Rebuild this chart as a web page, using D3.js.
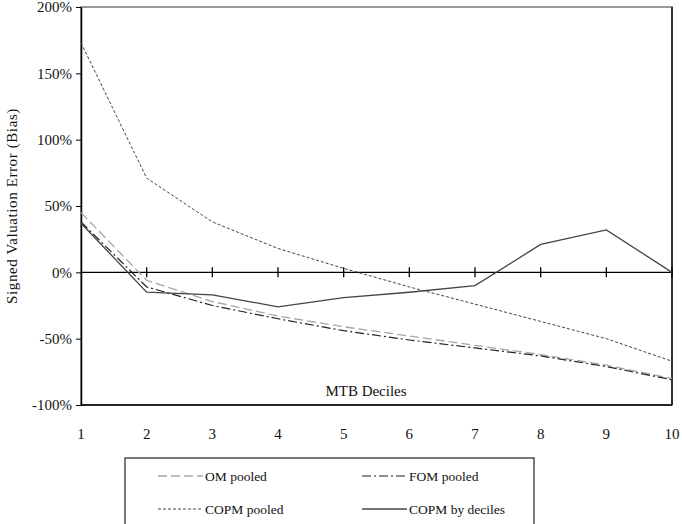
<!DOCTYPE html>
<html>
<head>
<meta charset="utf-8">
<script src="https://cdn.jsdelivr.net/npm/d3@7"></script>
<style>
  body { margin: 0; background: #fff; }
  svg { display: block; }
  svg text { font-family: "Liberation Serif", "Times New Roman", serif; }
</style>
</head>
<body>
<svg id="chart" width="682" height="524"></svg>
<script>
const deciles = [1, 2, 3, 4, 5, 6, 7, 8, 9, 10];
const yTicks = [-100, -50, 0, 50, 100, 150, 200];

const omPooled = [45, -6, -22, -33, -41, -48, -55, -62, -70, -80];
const fomPooled = [38, -11, -25, -35, -44, -51, -57, -63, -71, -81];
const copmPooled = [173, 71, 38, 18, 3, -11, -24, -37, -50, -67];
const copmDeciles = [37, -15, -17, -26, -19, -15, -10, 21, 32, 0];

const seriesNames = ['OM pooled', 'FOM pooled', 'COPM pooled', 'COPM by deciles'];
const seriesValues = [omPooled, fomPooled, copmPooled, copmDeciles];

const FONT = '"Liberation Serif", "Times New Roman", serif';

// line styles per series
const styles = {
    'OM pooled': { stroke: '#a6a6a6', dash: '9,4', width: 1.3 },
    'FOM pooled': { stroke: '#222', dash: '9,3,2,3', width: 1.2 },
    'COPM pooled': { stroke: '#444', dash: '3,2', width: 1 },
    'COPM by deciles': { stroke: '#444', dash: null, width: 1.3 }
};

const svg = d3.select('#chart');
const M = { left: 81, right: 672, top: 7, bottom: 405 };

const x = d3.scaleLinear().domain([1, 10]).range([M.left, M.right]);
const y = d3.scaleLinear().domain([-100, 200]).range([M.bottom, M.top]);

// plot frame
svg.append('rect')
    .attr('x', M.left).attr('y', M.top)
    .attr('width', M.right - M.left).attr('height', M.bottom - M.top)
    .attr('fill', 'none')
    .attr('stroke', '#777')
    .attr('stroke-width', 1.5);
svg.append('line')
    .attr('x1', M.right).attr('x2', M.right).attr('y1', M.top).attr('y2', M.bottom)
    .attr('stroke', '#111').attr('stroke-width', 1.5);
svg.append('line')
    .attr('x1', M.left).attr('x2', M.right).attr('y1', M.bottom).attr('y2', M.bottom)
    .attr('stroke', '#000').attr('stroke-width', 1.5);

// y axis
const yAxis = svg.append('g')
    .attr('transform', `translate(${M.left},0)`)
    .call(d3.axisLeft(y).tickValues(yTicks).tickSize(5).tickSizeOuter(0).tickFormat(d => d + '%'));
yAxis.attr('font-family', FONT);
yAxis.select('.domain').attr('stroke', '#000').attr('stroke-width', 1.5);
yAxis.selectAll('.tick line').attr('stroke', '#000');
yAxis.selectAll('text')
    .attr('font-family', FONT)
    .attr('font-size', 15)
    .attr('fill', '#111')
    .attr('x', -9);

// zero line with crossing ticks
svg.append('line')
    .attr('x1', M.left).attr('x2', M.right)
    .attr('y1', y(0)).attr('y2', y(0))
    .attr('stroke', '#000').attr('stroke-width', 1.3);
svg.append('g').selectAll('line')
    .data(deciles.slice(1))
    .join('line')
    .attr('x1', d => x(d)).attr('x2', d => x(d))
    .attr('y1', y(0) - 5).attr('y2', y(0) + 5)
    .attr('stroke', '#000').attr('stroke-width', 1.3);

// x labels below the plot
svg.append('g').selectAll('text')
    .data(deciles)
    .join('text')
    .text(d => d)
    .attr('x', d => x(d))
    .attr('y', 439)
    .attr('text-anchor', 'middle')
    .attr('font-family', FONT)
    .attr('font-size', 15)
    .attr('fill', '#111');

svg.append('text')
    .text('MTB Deciles')
    .attr('x', 366).attr('y', 396)
    .attr('text-anchor', 'middle')
    .attr('font-family', FONT)
    .attr('font-size', 15)
    .attr('fill', '#111');

svg.append('text')
    .text('Signed Valuation Error (Bias)')
    .attr('transform', 'translate(17,206) rotate(-90)')
    .attr('text-anchor', 'middle')
    .attr('font-family', FONT)
    .attr('font-size', 15)
    .attr('letter-spacing', 0.6)
    .attr('fill', '#111');

// lines
const line = d3.line().x((_d, i) => x(deciles[i])).y(d => y(d));
seriesNames.forEach((name, k) => {
    const s = styles[name];
    svg.append('path')
        .datum(seriesValues[k])
        .attr('d', line)
        .attr('fill', 'none')
        .attr('stroke', s.stroke)
        .attr('stroke-width', s.width)
        .attr('stroke-dasharray', s.dash);
});

// legend
const legend = svg.append('g');
legend.append('rect')
    .attr('x', 125).attr('y', 458)
    .attr('width', 409).attr('height', 80)
    .attr('fill', '#fff')
    .attr('stroke', '#222')
    .attr('stroke-width', 1.2);
const legendPos = [[158, 476], [362, 476], [158, 509], [362, 509]];
seriesNames.forEach((name, k) => {
    const s = styles[name];
    const [lx, ly] = legendPos[k];
    legend.append('line')
        .attr('x1', lx).attr('x2', lx + 45)
        .attr('y1', ly).attr('y2', ly)
        .attr('stroke', s.stroke)
        .attr('stroke-width', s.width)
        .attr('stroke-dasharray', s.dash);
    legend.append('text')
        .text(name)
        .attr('x', lx + 47).attr('y', ly + 5)
        .attr('font-family', FONT)
        .attr('font-size', 13.5)
        .attr('fill', '#111');
});
</script>
</body>
</html>
